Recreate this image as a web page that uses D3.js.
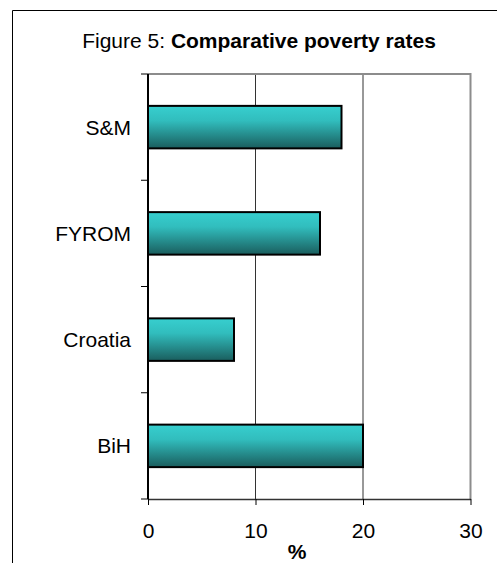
<!DOCTYPE html>
<html>
<head>
<meta charset="utf-8">
<script src="https://cdn.jsdelivr.net/npm/d3@7/dist/d3.min.js"></script>
<style>
  html, body { margin: 0; padding: 0; background: #fff; }
  svg { display: block; font-family: "Liberation Sans", Arial, sans-serif; }
</style>
</head>
<body>
<svg id="chart" width="497" height="563"></svg>
<script>
// Poverty rates (%) by country, top to bottom
const countries = ["S&M", "FYROM", "Croatia", "BiH"];
const rates = [18, 16, 8, 20];
const xTicks = [0, 10, 20, 30];
const titleLead = "Figure 5: ";
const titleMain = "Comparative poverty rates";
const xTitle = "%";

const svg = d3.select("#chart");
const W = 497, H = 563;
const plot = { left: 148, right: 470.5, top: 74, bottom: 499 };

// Outer frame (runs past the right and bottom edges)
svg.append("path")
  .attr("d", `M12.5,${H + 5} V10.5 H${W + 5}`)
  .attr("fill", "none")
  .attr("stroke", "#000")
  .attr("stroke-width", 1);

// Title
const title = svg.append("text")
  .attr("x", 259)
  .attr("y", 47.5)
  .attr("text-anchor", "middle")
  .attr("font-size", 21)
  .attr("fill", "#000");
title.append("tspan").text(titleLead);
title.append("tspan").attr("font-weight", "bold").text(titleMain);

const x = d3.scaleLinear().domain([0, 30]).range([plot.left, plot.right]);
const y = d3.scaleBand().domain(countries).range([plot.top, plot.bottom])
  .paddingInner(0.6).paddingOuter(0.3);

// Bar gradient: light cyan on top fading to dark teal at the bottom
const defs = svg.append("defs");
const grad = defs.append("linearGradient")
  .attr("id", "barFill").attr("x1", 0).attr("y1", 0).attr("x2", 0).attr("y2", 1);
grad.append("stop").attr("offset", "0%").attr("stop-color", "#37cfcf");
grad.append("stop").attr("offset", "35%").attr("stop-color", "#31bdbd");
grad.append("stop").attr("offset", "100%").attr("stop-color", "#1a5d5d");

// Vertical gridlines
svg.append("g")
  .selectAll("line")
  .data(xTicks.filter(t => t > 0 && t < 30))
  .join("line")
  .attr("x1", d => x(d)).attr("x2", d => x(d))
  .attr("y1", plot.top).attr("y2", plot.bottom)
  .attr("stroke", "#333")
  .attr("stroke-width", 1);

// Plot area border (top and right)
svg.append("path")
  .attr("d", `M${plot.left},${plot.top} H${plot.right} V${plot.bottom}`)
  .attr("fill", "none")
  .attr("stroke", "#8c8c8c")
  .attr("stroke-width", 2);

// Bars
svg.append("g")
  .selectAll("rect")
  .data(countries.map((c, i) => ({ c, v: rates[i] })))
  .join("rect")
  .attr("x", x(0))
  .attr("y", d => y(d.c))
  .attr("width", d => x(d.v) - x(0))
  .attr("height", y.bandwidth())
  .attr("fill", "url(#barFill)")
  .attr("stroke", "#000")
  .attr("stroke-width", 2);

// X axis
const xAxis = svg.append("g")
  .attr("transform", `translate(0,${plot.bottom})`)
  .call(d3.axisBottom(x).tickValues(xTicks).tickSize(6).tickPadding(18).tickSizeOuter(0));
xAxis.select(".domain").attr("stroke", "#333").attr("stroke-width", 1.5);
xAxis.selectAll(".tick line").attr("stroke", "#000");
xAxis.selectAll(".tick text")
  .attr("font-size", 21)
  .attr("font-family", "Liberation Sans, Arial, sans-serif")
  .attr("fill", "#000");

// Y axis line with ticks at the category boundaries
const step = y.step();
const bounds = d3.range(countries.length + 1).map(i => plot.top + i * step);
svg.append("line")
  .attr("x1", plot.left).attr("x2", plot.left)
  .attr("y1", plot.top).attr("y2", plot.bottom)
  .attr("stroke", "#000").attr("stroke-width", 2);
svg.append("g")
  .selectAll("line")
  .data(bounds)
  .join("line")
  .attr("x1", plot.left - 7).attr("x2", plot.left)
  .attr("y1", d => d).attr("y2", d => d)
  .attr("stroke", "#000").attr("stroke-width", 1);

// Category labels
svg.append("g")
  .selectAll("text")
  .data(countries)
  .join("text")
  .attr("x", 131)
  .attr("y", d => y(d) + y.bandwidth() / 2)
  .attr("dy", "0.36em")
  .attr("text-anchor", "end")
  .attr("font-size", 21)
  .attr("fill", "#000")
  .text(d => d);

// X axis title
svg.append("text")
  .attr("x", 297)
  .attr("y", 559)
  .attr("text-anchor", "middle")
  .attr("font-size", 21)
  .attr("font-weight", "bold")
  .attr("fill", "#000")
  .text(xTitle);
</script>
</body>
</html>
